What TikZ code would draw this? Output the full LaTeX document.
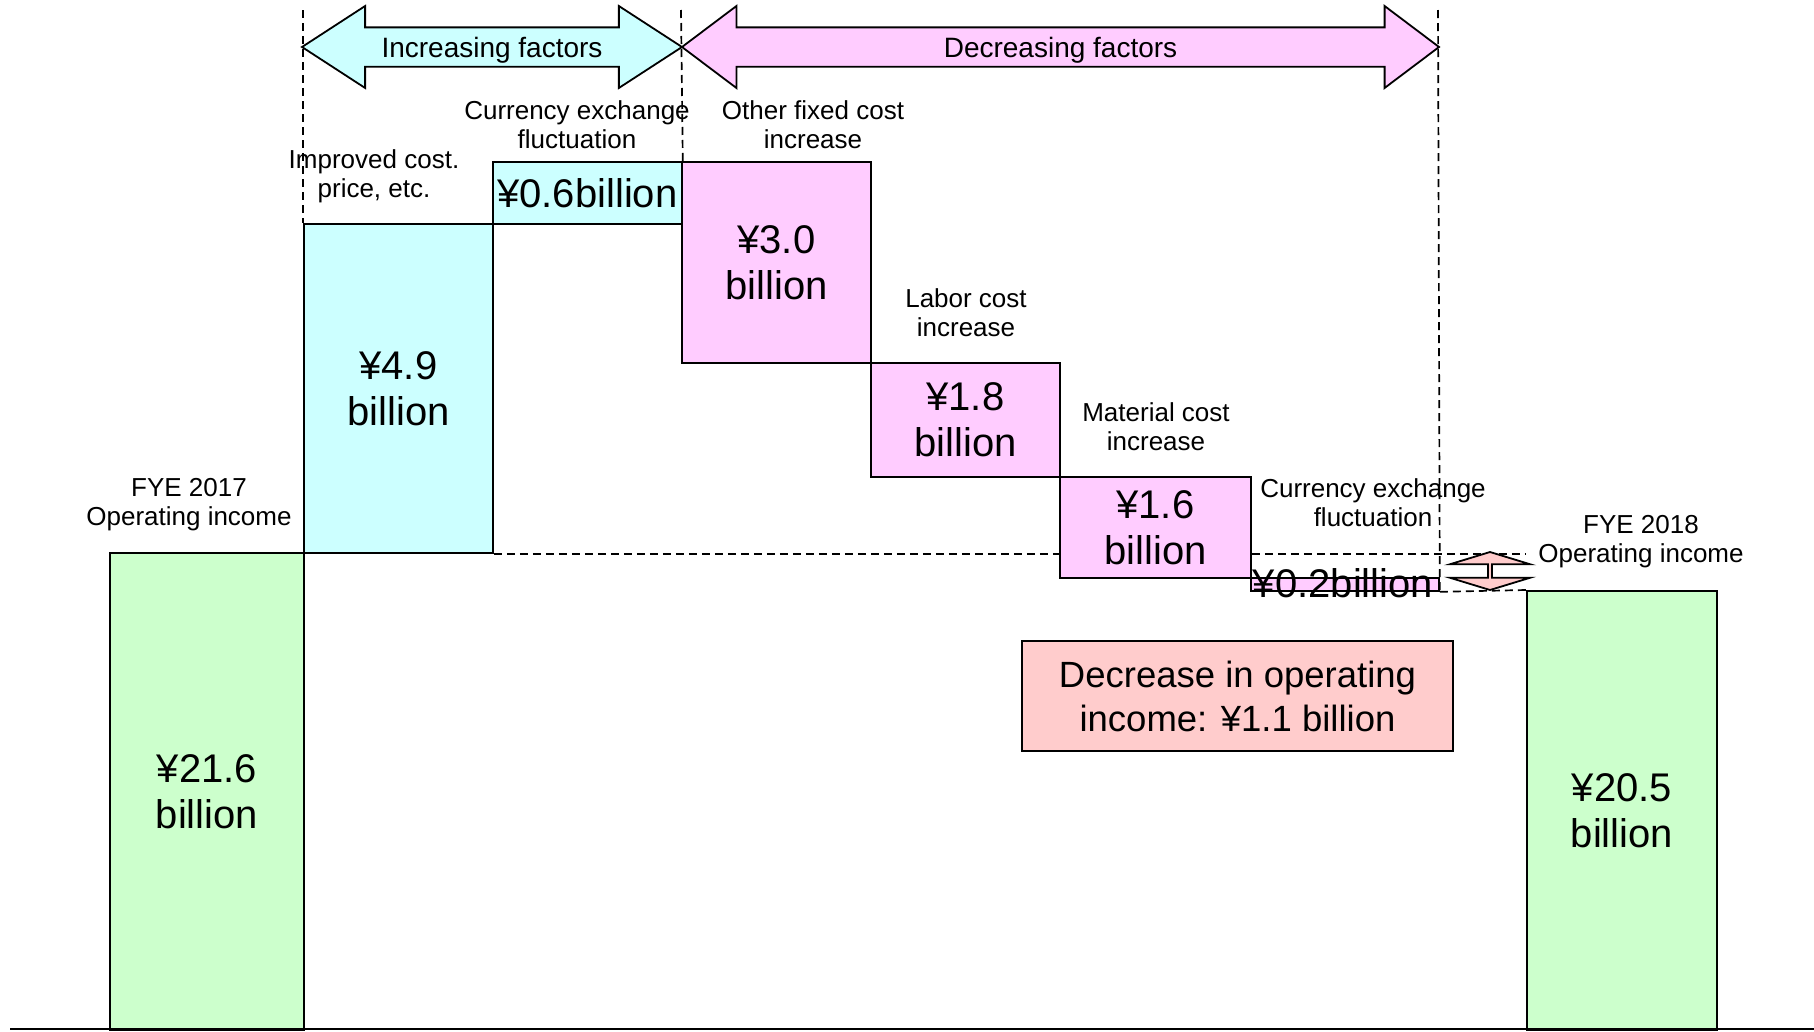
\documentclass[tikz,border=0pt]{standalone}
\usepackage{fontspec}
\setmainfont{Liberation Sans}
\usepackage{tikz}
\usetikzlibrary{shapes.arrows}

\definecolor{upfill}{HTML}{CCFFFF}
\definecolor{downfill}{HTML}{FFCCFF}
\definecolor{totalfill}{HTML}{CCFFCC}
\definecolor{difffill}{HTML}{FFCCCC}

\begin{document}
\begin{tikzpicture}
[x=1pt, y=-1pt,
  bar/.style = {draw, line width=1.8pt, anchor=north west, inner sep=0pt,
    align=center, font=\fontsize{40}{46}\selectfont},
  caption/.style = {align=center, inner sep=0pt, font=\fontsize{26}{29}\selectfont},
  guide/.style = {line width=1.7pt, dash pattern=on 8pt off 5pt},
  factor/.style = {double arrow, draw, line width=1.8pt, inner sep=0pt,
    minimum width=82pt, double arrow head extend=12pt, text depth=0pt,
    font=\fontsize{28}{32}\selectfont}]
  \useasboundingbox (0,0) rectangle (1814,1031);

  % header arrows
  \node [factor, fill=upfill, minimum height=380pt, double arrow tip angle=66]
    (upfactor) at (492,47) {Increasing factors};
  \node [factor, fill=downfill, minimum height=757pt, double arrow tip angle=74]
    (downfactor) at (1060.5,47) {Decreasing factors};

  % bars
  \node [bar, fill=totalfill, minimum width=194pt, minimum height=477pt]
    (fye17) at (109,552) {¥21.6\\billion};
  \node [bar, fill=upfill, minimum width=189pt, minimum height=329pt]
    (costup) at (303,223) {¥4.9\\billion};
  \node [bar, fill=upfill, minimum width=189pt, minimum height=62pt]
    (fxup) at (492,161) {¥0.6billion};
  \node [bar, fill=downfill, minimum width=189pt, minimum height=201pt]
    (fixeddown) at (681,161) {¥3.0\\billion};
  \node [bar, fill=downfill, minimum width=189pt, minimum height=114pt]
    (labordown) at (870,362) {¥1.8\\billion};
  \node [bar, fill=downfill, minimum width=191pt, minimum height=101pt]
    (materialdown) at (1059,476) {¥1.6\\billion};
  \node [bar, fill=downfill, minimum width=188pt, minimum height=13pt]
    (fxdown) at (1250,577) {};
  \node [bar, fill=totalfill, minimum width=190pt, minimum height=439pt]
    (fye18) at (1526,590) {¥20.5\\billion};
  \node [inner sep=0pt, font=\fontsize{40}{46}\selectfont]
    (fxdownval) at (1343,583) {¥0.2billion};

  % dashed guides
  \coordinate (topA) at (303,10);
  \coordinate (topB) at (681,10);
  \coordinate (topC) at (1438,10);
  \draw [guide] (topA) -- (costup.north west);
  \draw [guide] (topB) -- (fxup.north east);
  \draw [guide] (topC) -- (fxdown.south east);
  \draw [guide] (costup.south east) -- (materialdown.south west |- costup.south east);
  \draw [guide] (materialdown.south east |- costup.south east) -- (fye18.north west |- costup.south east);
  \draw [guide] (fxdown.south east) -- (fye18.north west);

  % difference arrow
  \node [double arrow, draw, fill=difffill, line width=1.8pt, inner sep=0pt,
    rotate=90, minimum height=38pt, minimum width=80pt,
    double arrow head extend=17pt, double arrow tip angle=146]
    (gap) at (1490,571) {};

  % captions
  \node [caption] (fye17cap) at (189,505) {FYE 2017\\Operating income};
  \node [caption] (costcap) at (374,176) {Improved cost.\\price, etc.};
  \node [caption] (fxupcap) at (577,125) {Currency exchange\\fluctuation};
  \node [caption] (fixedcap) at (813,125) {Other fixed cost\\increase};
  \node [caption] (laborcap) at (966,313) {Labor cost\\increase};
  \node [caption] (materialcap) at (1156,427) {Material cost\\increase};
  \node [caption] (fxdowncap) at (1373,503) {Currency exchange\\fluctuation};
  \node [caption] (fye18cap) at (1641,542) {FYE 2018\\Operating income};

  % result
  \node [draw, fill=difffill, line width=1.8pt, align=center, minimum width=431pt,
    minimum height=110pt, font=\fontsize{36.5}{44}\selectfont]
    (result) at (1237.5,696) {Decrease in operating\\income: ¥1.1 billion};

  % base line
  \coordinate (axisL) at (10,1029);
  \coordinate (axisR) at (1814,1029);
  \draw [line width=2pt] (axisL) -- (axisR);
\end{tikzpicture}
\end{document}
